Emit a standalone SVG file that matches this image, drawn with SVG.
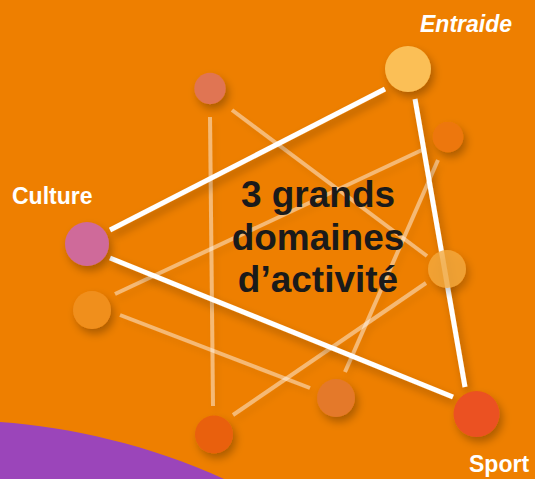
<svg xmlns="http://www.w3.org/2000/svg" width="535" height="479" viewBox="0 0 535 479">
<defs>
<filter id="sh" x="-60%" y="-60%" width="220%" height="220%">
<feDropShadow dx="3" dy="5" stdDeviation="4.5" flood-color="#000" flood-opacity="0.28"/>
</filter>
<filter id="shl" x="-20%" y="-20%" width="140%" height="140%">
<feDropShadow dx="3" dy="5" stdDeviation="3" flood-color="#000" flood-opacity="0.13"/>
</filter>
<style>
.main{stroke:#fff;stroke-width:5;fill:none}
.faint{stroke:#fff;stroke-opacity:0.45;stroke-width:4;fill:none}
.lbl{font-family:"Liberation Sans",Arial,sans-serif;font-weight:bold;fill:#fff;font-size:23px}
.title{font-family:"Liberation Sans",Arial,sans-serif;font-weight:bold;fill:#1a1a1a;font-size:37px;text-anchor:middle}
</style>
</defs>
<rect width="535" height="479" fill="#EE7F00"/>
<path d="M0,422 C70,427 150,445 224,479 L0,479 Z" fill="#9B45BA"/>
<g id="connectors">
<g filter="url(#shl)">
<line class="faint" x1="210" y1="117" x2="213" y2="406"/>
<line class="faint" x1="232" y1="110" x2="427" y2="256"/>
<line class="faint" x1="115" y1="294" x2="422" y2="150"/>
<line class="faint" x1="120" y1="315" x2="310" y2="388"/>
<line class="faint" x1="233" y1="415" x2="426" y2="283"/>
<line class="faint" x1="438" y1="160" x2="345" y2="372"/>
</g>
<g filter="url(#sh)">
<line class="main" x1="110" y1="230" x2="385" y2="89"/>
<line class="main" x1="110" y1="258" x2="453" y2="397"/>
<line class="main" x1="415" y1="99" x2="465" y2="387"/>
</g>
</g>
<g id="node-entraide" filter="url(#sh)"><circle cx="408" cy="69" r="23" fill="#FBBF57"/></g>
<g id="node-topleft" filter="url(#sh)"><circle cx="210" cy="88.5" r="15.7" fill="#E07452"/></g>
<g id="node-righttop" filter="url(#sh)"><circle cx="448" cy="137" r="15.3" fill="#ED7710"/></g>
<g id="node-culture" filter="url(#sh)"><circle cx="87" cy="244" r="22" fill="#CF6A9A"/></g>
<g id="node-rightmid" filter="url(#sh)"><circle cx="447" cy="269" r="19" fill="#F5AA40" fill-opacity="0.8"/></g>
<g id="node-left" filter="url(#sh)"><circle cx="92" cy="310" r="19" fill="#F08F1E"/></g>
<g id="node-bottommid" filter="url(#sh)"><circle cx="336" cy="398" r="19" fill="#E4792A"/></g>
<g id="node-bottomleft" filter="url(#sh)"><circle cx="214" cy="434.5" r="19" fill="#E9600F"/></g>
<g id="node-sport" filter="url(#sh)"><circle cx="476.5" cy="414" r="23" fill="#EB5120"/></g>
<g id="labels">
<text class="lbl" x="420" y="31.5" font-style="italic">Entraide</text>
<text class="lbl" x="12" y="204">Culture</text>
<text class="lbl" x="469" y="471.5">Sport</text>
<text class="title"><tspan x="318" y="207">3 grands</tspan><tspan x="318" y="250">domaines</tspan><tspan x="318" y="292">d’activité</tspan></text>
</g>
</svg>
